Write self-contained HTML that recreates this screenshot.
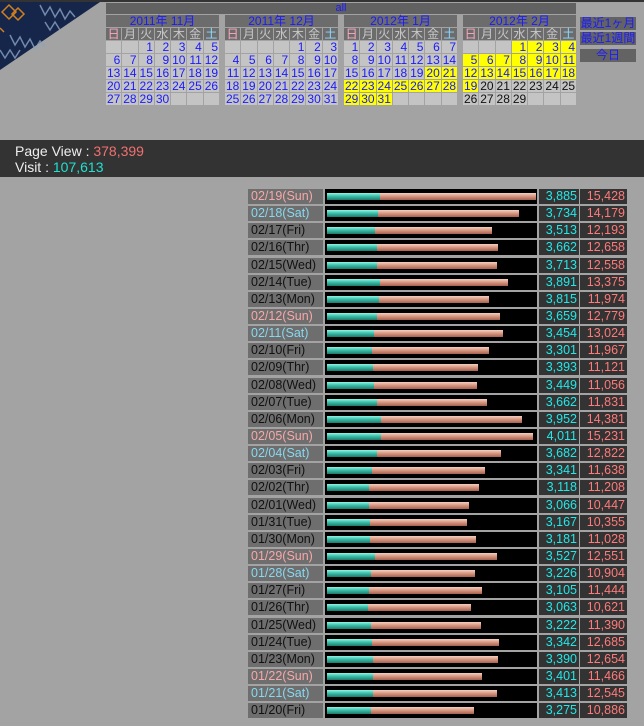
<!DOCTYPE html>
<html><head><meta charset="utf-8"><style>
body{margin:0;width:644px;height:726px;background:#a3a3a3;position:relative;overflow:hidden;font-family:"Liberation Sans","Noto Sans CJK JP",sans-serif;}
.abs{position:absolute}
.cal{position:absolute;top:15px;width:113px}
.mh{height:12px;background:#6c6c6c;color:#1a1aff;font-size:12px;line-height:12px;text-align:center;margin-bottom:1px}
.g{display:grid;grid-template-columns:repeat(7,15.3px);grid-auto-rows:12px;gap:1px;}
.g div{background:#c4c4c4;color:#1a1aff;font-size:12px;line-height:12px;text-align:right;padding-right:1px}
.g div.d{background:#6c6c6c;color:#c8c8c8;text-align:center;padding:0}
.g div.su{color:#ffa8c0}.g div.sa{color:#8ad8ff}
.g div.y{background:#ffff00}
.g div.k{color:#111}
.btn{position:absolute;left:580px;width:56px;height:13px;background:#636363;color:#1a1aff;font-size:12px;line-height:13px;text-align:center}
.rows{position:absolute;left:248px;top:189px}
.r{position:relative;height:17.15px}
.r div{position:absolute;top:0;height:15px;font-size:12.5px;line-height:15px}
.l{left:0;width:72px;background:#6e6e6e;color:#111;padding-left:3px}
.b{left:77px;width:212px;background:#000}
.v{left:291px;width:38px;background:#333;color:#22e8e8;text-align:right;padding-right:2px}
.p{left:332px;width:45px;background:#333;color:#ff7a7a;text-align:right;padding-right:2px}
.sun{color:#f7a8a8 !important}.sat{color:#88d8f0 !important}
.b i{position:absolute;left:2px;top:4px;height:7px;display:block}
.b i.pv{background:linear-gradient(#f5d0c0,#d89a84 45%,#a86050)}
.b i.vi{background:linear-gradient(#90f5e5,#3cc0aa 45%,#1e7a6c)}
</style></head><body>
<div class="abs" style="left:0;top:0;width:644px;height:2px;background:#333"></div>
<svg class="abs" style="left:0;top:0" width="106" height="75">
<polygon points="0,2 100,2 0,70" fill="#16264a"/>
<g stroke="#8aa4c4" stroke-width="1.5" fill="none" opacity="0.8">
<path d="M40,5 l5,10 l5,-8 l5,10 l5,-8 l5,10 l5,-8 l5,6"/>
<path d="M10,35 l5,10 l5,-8 l5,10 l5,-8 l5,10 l5,-8 l5,6"/>
<path d="M0,50 l5,8 l5,-8 l5,8 l5,-8"/>
<path d="M45,22 l5,8 l5,-8 l5,8"/>
</g>
<g stroke="#d08020" stroke-width="1.5" fill="none"><path d="M2,12 l7,-7 l7,7 l-7,7z"/><path d="M12,14 l6,-6 l6,6 l-6,6z"/><path d="M0,28 l4,4"/></g>
</svg>
<div class="abs" style="left:106px;top:3px;width:470px;height:11px;background:#616161;color:#1a1aff;font-size:11px;line-height:11px;text-align:center">all</div>

<div class="cal" style="left:106px"><div class="mh">2011年 11月</div><div class="g">
<div class="d su">日</div><div class="d">月</div><div class="d">火</div><div class="d">水</div><div class="d">木</div><div class="d">金</div><div class="d sa">土</div>
<div></div><div></div><div>1</div><div>2</div><div>3</div><div>4</div><div>5</div>
<div>6</div><div>7</div><div>8</div><div>9</div><div>10</div><div>11</div><div>12</div>
<div>13</div><div>14</div><div>15</div><div>16</div><div>17</div><div>18</div><div>19</div>
<div>20</div><div>21</div><div>22</div><div>23</div><div>24</div><div>25</div><div>26</div>
<div>27</div><div>28</div><div>29</div><div>30</div><div></div><div></div><div></div>
</div></div>

<div class="cal" style="left:225px"><div class="mh">2011年 12月</div><div class="g">
<div class="d su">日</div><div class="d">月</div><div class="d">火</div><div class="d">水</div><div class="d">木</div><div class="d">金</div><div class="d sa">土</div>
<div></div><div></div><div></div><div></div><div>1</div><div>2</div><div>3</div>
<div>4</div><div>5</div><div>6</div><div>7</div><div>8</div><div>9</div><div>10</div>
<div>11</div><div>12</div><div>13</div><div>14</div><div>15</div><div>16</div><div>17</div>
<div>18</div><div>19</div><div>20</div><div>21</div><div>22</div><div>23</div><div>24</div>
<div>25</div><div>26</div><div>27</div><div>28</div><div>29</div><div>30</div><div>31</div>
</div></div>

<div class="cal" style="left:344px"><div class="mh">2012年 1月</div><div class="g">
<div class="d su">日</div><div class="d">月</div><div class="d">火</div><div class="d">水</div><div class="d">木</div><div class="d">金</div><div class="d sa">土</div>
<div>1</div><div>2</div><div>3</div><div>4</div><div>5</div><div>6</div><div>7</div>
<div>8</div><div>9</div><div>10</div><div>11</div><div>12</div><div>13</div><div>14</div>
<div>15</div><div>16</div><div>17</div><div>18</div><div>19</div><div class="y">20</div><div class="y">21</div>
<div class="y">22</div><div class="y">23</div><div class="y">24</div><div class="y">25</div><div class="y">26</div><div class="y">27</div><div class="y">28</div>
<div class="y">29</div><div class="y">30</div><div class="y">31</div><div></div><div></div><div></div><div></div>
</div></div>

<div class="cal" style="left:463px"><div class="mh">2012年 2月</div><div class="g">
<div class="d su">日</div><div class="d">月</div><div class="d">火</div><div class="d">水</div><div class="d">木</div><div class="d">金</div><div class="d sa">土</div>
<div></div><div></div><div></div><div class="y">1</div><div class="y">2</div><div class="y">3</div><div class="y">4</div>
<div class="y">5</div><div class="y">6</div><div class="y">7</div><div class="y">8</div><div class="y">9</div><div class="y">10</div><div class="y">11</div>
<div class="y">12</div><div class="y">13</div><div class="y">14</div><div class="y">15</div><div class="y">16</div><div class="y">17</div><div class="y">18</div>
<div class="y">19</div><div class="k">20</div><div class="k">21</div><div class="k">22</div><div class="k">23</div><div class="k">24</div><div class="k">25</div>
<div class="k">26</div><div class="k">27</div><div class="k">28</div><div class="k">29</div><div></div><div></div><div></div>
</div></div>

<div class="btn" style="top:17px">最近1ヶ月</div>
<div class="btn" style="top:32px">最近1週間</div>
<div class="btn" style="top:49px">今日</div>

<div class="abs" style="left:0;top:140px;width:644px;height:37px;background:#333"></div>
<div class="abs" style="left:15px;top:143px;font-size:14px;line-height:16px;color:#eee">Page View : <span style="color:#f27070">378,399</span><br>Visit : <span style="color:#20e0d0">107,613</span></div>

<div class="rows">
<div class="r"><div class="l sun">02/19(Sun)</div><div class="b"><i class="pv" style="width:209px"></i><i class="vi" style="width:53px"></i></div><div class="v">3,885</div><div class="p">15,428</div></div>
<div class="r"><div class="l sat">02/18(Sat)</div><div class="b"><i class="pv" style="width:192px"></i><i class="vi" style="width:51px"></i></div><div class="v">3,734</div><div class="p">14,179</div></div>
<div class="r"><div class="l">02/17(Fri)</div><div class="b"><i class="pv" style="width:165px"></i><i class="vi" style="width:48px"></i></div><div class="v">3,513</div><div class="p">12,193</div></div>
<div class="r"><div class="l">02/16(Thr)</div><div class="b"><i class="pv" style="width:171px"></i><i class="vi" style="width:50px"></i></div><div class="v">3,662</div><div class="p">12,658</div></div>
<div class="r"><div class="l">02/15(Wed)</div><div class="b"><i class="pv" style="width:170px"></i><i class="vi" style="width:50px"></i></div><div class="v">3,713</div><div class="p">12,558</div></div>
<div class="r"><div class="l">02/14(Tue)</div><div class="b"><i class="pv" style="width:181px"></i><i class="vi" style="width:53px"></i></div><div class="v">3,891</div><div class="p">13,375</div></div>
<div class="r"><div class="l">02/13(Mon)</div><div class="b"><i class="pv" style="width:162px"></i><i class="vi" style="width:52px"></i></div><div class="v">3,815</div><div class="p">11,974</div></div>
<div class="r"><div class="l sun">02/12(Sun)</div><div class="b"><i class="pv" style="width:173px"></i><i class="vi" style="width:50px"></i></div><div class="v">3,659</div><div class="p">12,779</div></div>
<div class="r"><div class="l sat">02/11(Sat)</div><div class="b"><i class="pv" style="width:176px"></i><i class="vi" style="width:47px"></i></div><div class="v">3,454</div><div class="p">13,024</div></div>
<div class="r"><div class="l">02/10(Fri)</div><div class="b"><i class="pv" style="width:162px"></i><i class="vi" style="width:45px"></i></div><div class="v">3,301</div><div class="p">11,967</div></div>
<div class="r"><div class="l">02/09(Thr)</div><div class="b"><i class="pv" style="width:151px"></i><i class="vi" style="width:46px"></i></div><div class="v">3,393</div><div class="p">11,121</div></div>
<div class="r"><div class="l">02/08(Wed)</div><div class="b"><i class="pv" style="width:150px"></i><i class="vi" style="width:47px"></i></div><div class="v">3,449</div><div class="p">11,056</div></div>
<div class="r"><div class="l">02/07(Tue)</div><div class="b"><i class="pv" style="width:160px"></i><i class="vi" style="width:50px"></i></div><div class="v">3,662</div><div class="p">11,831</div></div>
<div class="r"><div class="l">02/06(Mon)</div><div class="b"><i class="pv" style="width:195px"></i><i class="vi" style="width:54px"></i></div><div class="v">3,952</div><div class="p">14,381</div></div>
<div class="r"><div class="l sun">02/05(Sun)</div><div class="b"><i class="pv" style="width:206px"></i><i class="vi" style="width:54px"></i></div><div class="v">4,011</div><div class="p">15,231</div></div>
<div class="r"><div class="l sat">02/04(Sat)</div><div class="b"><i class="pv" style="width:174px"></i><i class="vi" style="width:50px"></i></div><div class="v">3,682</div><div class="p">12,822</div></div>
<div class="r"><div class="l">02/03(Fri)</div><div class="b"><i class="pv" style="width:158px"></i><i class="vi" style="width:45px"></i></div><div class="v">3,341</div><div class="p">11,638</div></div>
<div class="r"><div class="l">02/02(Thr)</div><div class="b"><i class="pv" style="width:152px"></i><i class="vi" style="width:42px"></i></div><div class="v">3,118</div><div class="p">11,208</div></div>
<div class="r"><div class="l">02/01(Wed)</div><div class="b"><i class="pv" style="width:142px"></i><i class="vi" style="width:42px"></i></div><div class="v">3,066</div><div class="p">10,447</div></div>
<div class="r"><div class="l">01/31(Tue)</div><div class="b"><i class="pv" style="width:140px"></i><i class="vi" style="width:43px"></i></div><div class="v">3,167</div><div class="p">10,355</div></div>
<div class="r"><div class="l">01/30(Mon)</div><div class="b"><i class="pv" style="width:149px"></i><i class="vi" style="width:43px"></i></div><div class="v">3,181</div><div class="p">11,028</div></div>
<div class="r"><div class="l sun">01/29(Sun)</div><div class="b"><i class="pv" style="width:170px"></i><i class="vi" style="width:48px"></i></div><div class="v">3,527</div><div class="p">12,551</div></div>
<div class="r"><div class="l sat">01/28(Sat)</div><div class="b"><i class="pv" style="width:148px"></i><i class="vi" style="width:44px"></i></div><div class="v">3,226</div><div class="p">10,904</div></div>
<div class="r"><div class="l">01/27(Fri)</div><div class="b"><i class="pv" style="width:155px"></i><i class="vi" style="width:42px"></i></div><div class="v">3,105</div><div class="p">11,444</div></div>
<div class="r"><div class="l">01/26(Thr)</div><div class="b"><i class="pv" style="width:144px"></i><i class="vi" style="width:41px"></i></div><div class="v">3,063</div><div class="p">10,621</div></div>
<div class="r"><div class="l">01/25(Wed)</div><div class="b"><i class="pv" style="width:154px"></i><i class="vi" style="width:44px"></i></div><div class="v">3,222</div><div class="p">11,390</div></div>
<div class="r"><div class="l">01/24(Tue)</div><div class="b"><i class="pv" style="width:172px"></i><i class="vi" style="width:45px"></i></div><div class="v">3,342</div><div class="p">12,685</div></div>
<div class="r"><div class="l">01/23(Mon)</div><div class="b"><i class="pv" style="width:171px"></i><i class="vi" style="width:46px"></i></div><div class="v">3,390</div><div class="p">12,654</div></div>
<div class="r"><div class="l sun">01/22(Sun)</div><div class="b"><i class="pv" style="width:155px"></i><i class="vi" style="width:46px"></i></div><div class="v">3,401</div><div class="p">11,466</div></div>
<div class="r"><div class="l sat">01/21(Sat)</div><div class="b"><i class="pv" style="width:170px"></i><i class="vi" style="width:46px"></i></div><div class="v">3,413</div><div class="p">12,545</div></div>
<div class="r"><div class="l">01/20(Fri)</div><div class="b"><i class="pv" style="width:147px"></i><i class="vi" style="width:44px"></i></div><div class="v">3,275</div><div class="p">10,886</div></div>
</div>
</body></html>
